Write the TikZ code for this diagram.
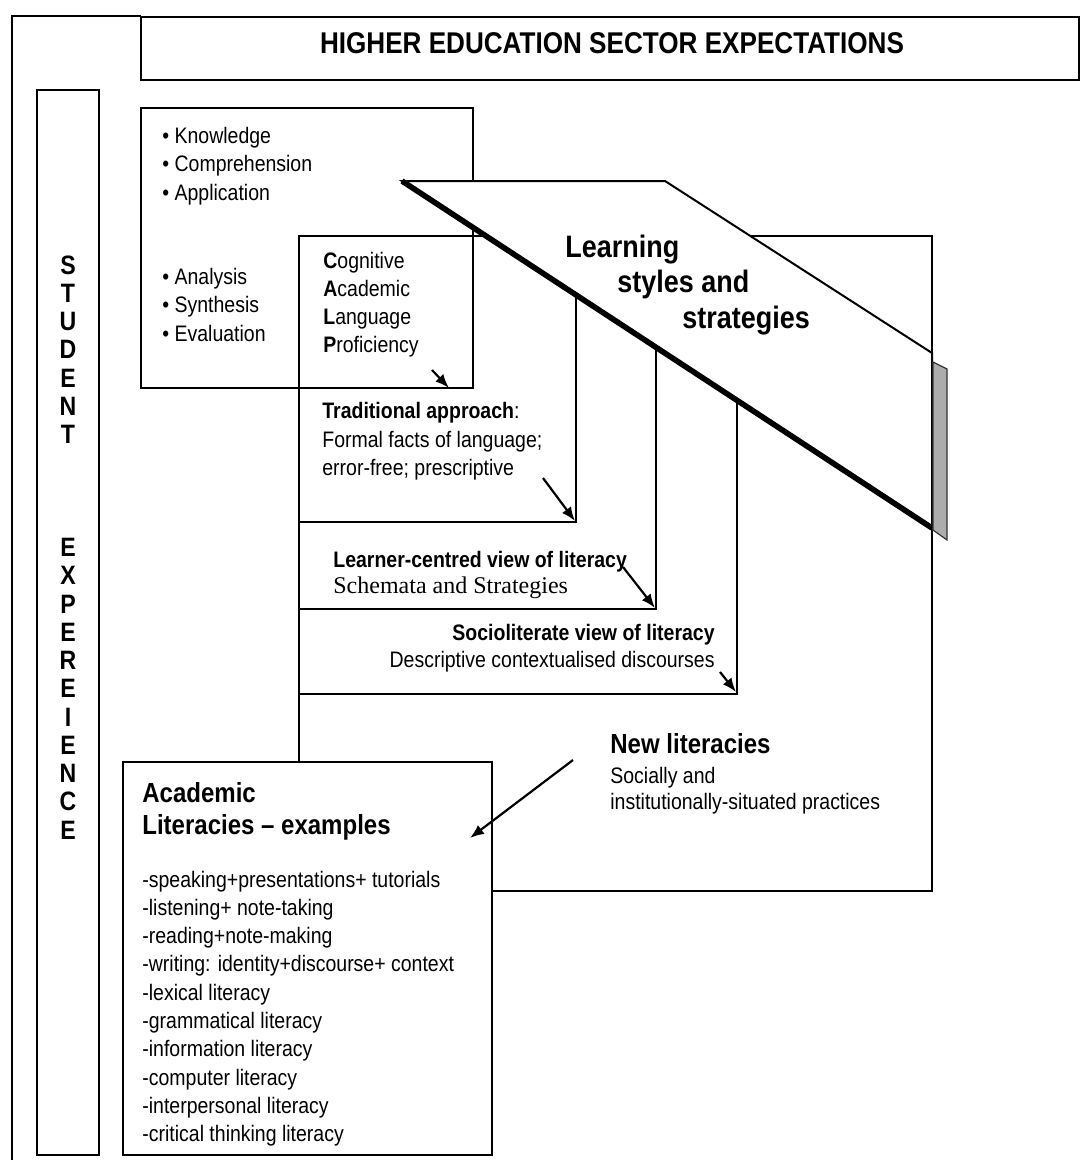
\documentclass[tikz,border=0pt]{standalone}
\usepackage{fontspec}
\setmainfont{Liberation Sans}[FakeStretch=0.87]
\newfontfamily\timesface{Liberation Serif}
\usetikzlibrary{arrows.meta}
\tikzset{
  box/.style={draw, line width=1.2pt},
  txt/.style={anchor=base west, inner sep=0pt, font=\fontsize{11.2}{13}\selectfont},
  btxt/.style={txt, font=\fontsize{11.2}{13}\selectfont\bfseries},
  headtxt/.style={anchor=base west, inner sep=0pt, font=\fontsize{13.8}{16}\selectfont\bfseries},
  lsstxt/.style={anchor=base west, inner sep=0pt, font=\fontsize{15.5}{18}\selectfont\bfseries},
  letter/.style={anchor=base, inner sep=0pt, font=\fontsize{13.3}{15}\selectfont\bfseries},
  pointer/.style={-{Latex[length=7pt,width=5.5pt]}, line width=1.1pt},
}
\begin{document}
\begin{tikzpicture}[x=0.5pt, y=-0.5pt]
  \useasboundingbox (0,0) rectangle (1082,1162);
  \draw [line width=0.8pt] (141,16) -- (12,16) -- (12,1160);
  \draw [box] (141,17) rectangle (1079,80);
  \node [anchor=base, inner sep=0pt, font=\fontsize{15}{18}\selectfont\bfseries] (sector) at (612,53) {HIGHER EDUCATION SECTOR EXPECTATIONS};
  \draw [box] (37,90) rectangle (99,1155);
  \foreach \c [count=\i from 0] in {S,T,U,D,E,N,T}
    \node [letter] (stu\i) at (68, {274+28.25*\i}) {\c};
  \foreach \c [count=\i from 10] in {E,X,P,E,R,E,I,E,N,C,E}
    \node [letter] (exp\i) at (68, {274+28.25*\i}) {\c};
  \draw [box] (141,108) rectangle (473,388);
  \draw [box] (299,236) rectangle (932,891);
  \draw [box] (576,236) |- (299,522);
  \draw [box] (656,236) |- (299,609);
  \draw [box] (737,236) |- (299,694);
  \filldraw [fill=white, line width=1pt] (402,181) -- (665,181) -- (932,353) -- (932,528) -- cycle;
  \draw [line width=2.8pt] (402,181) -- (932,528);
  \filldraw [fill=gray!65, draw=black!80, line width=0.6pt] (933,362) -- (947,369) -- (947,540) -- (933,530) -- cycle;
  \node [lsstxt] (learning) at (565,257) {Learning};
  \node [lsstxt] (styles) at (617,292) {styles and};
  \node [lsstxt] (strategies) at (682,328) {strategies};
  \foreach \t [count=\i from 0] in {Knowledge,Comprehension,Application}
    \node [txt] (lower\i) at (162, {143+28.5*\i}) {\textbullet\ \t};
  \foreach \t [count=\i from 0] in {Analysis,Synthesis,Evaluation}
    \node [txt] (higher\i) at (162, {284+28.5*\i}) {\textbullet\ \t};
  \foreach \f/\r [count=\i from 0] in {C/ognitive,A/cademic,L/anguage,P/roficiency}
    \node [txt] (calp\i) at (323, {268+28*\i}) {\textbf{\f}\r};
  \node [txt] (trad) at (322,418) {\textbf{Traditional approach}:};
  \node [txt] (tradA) at (322,447) {Formal facts of language;};
  \node [txt] (tradB) at (322,475) {error-free; prescriptive};
  \node [btxt] (learner) at (333,567) {Learner-centred view of literacy};
  \node [txt, font=\fontsize{12}{14}\timesface] (schemata) at (333,593) {Schemata and Strategies};
  \node [btxt, anchor=base east] (socio) at (715,640) {Socioliterate view of literacy};
  \node [txt, anchor=base east] (descr) at (715,667) {Descriptive contextualised discourses};
  \node [headtxt] (newlit) at (610,753) {New literacies};
  \node [txt] (sociallyA) at (610,783) {Socially and};
  \node [txt] (sociallyB) at (610,809) {institutionally-situated practices};
  \filldraw [box, fill=white] (123,762) rectangle (492,1155);
  \node [headtxt] (acad) at (142,802) {Academic};
  \node [headtxt] (acadB) at (142,834) {Literacies \textendash{} examples};
  \foreach \t [count=\i from 0] in {-speaking+presentations+ tutorials,-listening+ note-taking,-reading+note-making,-writing: identity+discourse+ context,-lexical literacy,-grammatical literacy,-information literacy,-computer literacy,-interpersonal literacy,-critical thinking literacy}
    \node [txt] (item\i) at (142, {887+28.3*\i}) {\t};
  \coordinate (arr1a) at (432,370);
  \coordinate (arr1b) at (449,388);
  \coordinate (arr2a) at (543,478);
  \coordinate (arr2b) at (575,521);
  \coordinate (arr3a) at (623,567);
  \coordinate (arr3b) at (655,608);
  \coordinate (arr4a) at (720,672);
  \coordinate (arr4b) at (736,692);
  \coordinate (arr5a) at (573,760);
  \coordinate (arr5b) at (470,838);
  \draw [pointer] (arr1a) -- (arr1b);
  \draw [pointer] (arr2a) -- (arr2b);
  \draw [pointer] (arr3a) -- (arr3b);
  \draw [pointer] (arr4a) -- (arr4b);
  \draw [pointer] (arr5a) -- (arr5b);
\end{tikzpicture}
\end{document}
